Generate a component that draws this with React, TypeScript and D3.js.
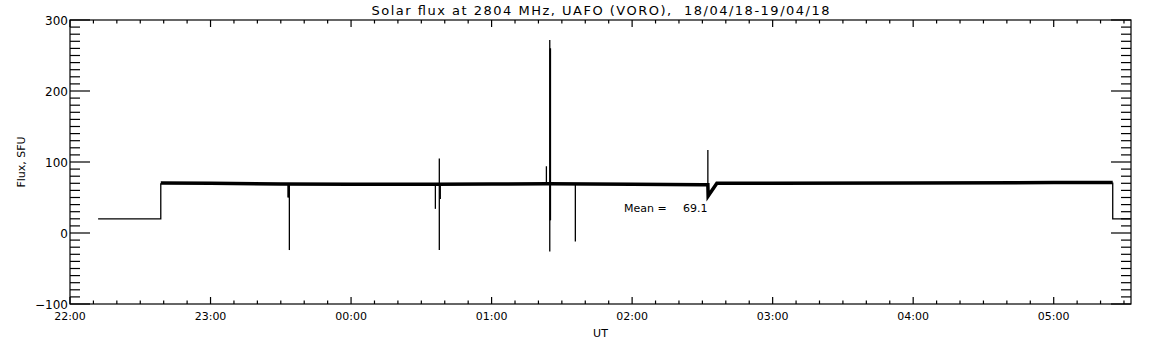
import React from "react";
import * as d3 from "d3";

// hours after 22:00 UT
const baseTimes = [0.646, 1.0, 1.5, 2.0, 2.6, 3.0, 3.4, 4.0, 4.5, 4.539, 4.541, 4.603, 5.0, 6.0, 7.0, 7.42];
const baseValues = [70.5, 70, 69, 68.5, 68.5, 69, 69.5, 68.5, 68, 68, 52, 70, 70, 70.5, 71, 71];

const lowStartTimes = [0.2, 0.646, 0.646];
const lowStartValues = [20, 20, 70];
const lowEndTimes = [7.42, 7.42, 7.55];
const lowEndValues = [71, 20, 20];

const spikeTimes = [1.551, 1.556, 1.561, 2.600, 2.628, 2.628, 2.635, 3.390, 3.414, 3.414, 3.417, 3.419, 3.596, 4.539];
const spikeBase = [68.5, 68.5, 68.5, 68.5, 68.5, 68.5, 68.5, 69.5, 69.5, 69.5, 18, 18, 69.5, 68];
const spikeValues = [50, 50, -24, 34, 105, -24, 48, 94, 272, -26, 260, 260, -12, 117];

const yTicks = [-100, 0, 100, 200, 300];
const xTickLabels = ["22:00", "23:00", "00:00", "01:00", "02:00", "03:00", "04:00", "05:00"];

const titleText = "Solar flux at 2804 MHz, UAFO (VORO),  18/04/18-19/04/18";
const meanLabel = "Mean =";
const meanValue = "69.1";

const W = 1152, H = 345;
const L = 70, R = 1131, T = 20, B = 304;

export default function App() {
  const x = d3.scaleLinear().domain([0, 7.55]).range([L, R]);
  const y = d3.scaleLinear().domain([-100, 300]).range([B, T]);
  const line = d3.line<[number, number]>().x(d => x(d[0])).y(d => y(d[1]));
  const base = line(baseTimes.map((t, i) => [t, baseValues[i]]) as [number, number][]) || "";
  const lowS = line(lowStartTimes.map((t, i) => [t, lowStartValues[i]]) as [number, number][]) || "";
  const lowE = line(lowEndTimes.map((t, i) => [t, lowEndValues[i]]) as [number, number][]) || "";
  const minorY = d3.range(-100, 301, 10).filter(v => v % 100 !== 0);
  const majorX = d3.range(0, 8, 1);
  const minorX = d3.range(0, 7.55, 1 / 6).filter(v => Math.abs(v - Math.round(v)) > 0.01);
  const font = "'DejaVu Sans', sans-serif";
  return (
    <svg width={W} height={H} style={{ position: "absolute", left: 0, top: 0, background: "#fff" }}>
      <rect x={0} y={0} width={W} height={H} fill="#fff" />
      <g stroke="#000" strokeWidth={1.2} fill="none">
        <rect x={L} y={T} width={R - L} height={B - T} />
        {yTicks.map(v => (
          <g key={"my" + v}>
            <line x1={L} x2={L + 20} y1={y(v)} y2={y(v)} />
            <line x1={R} x2={R - 20} y1={y(v)} y2={y(v)} />
          </g>
        ))}
        {minorY.map(v => (
          <g key={"ny" + v}>
            <line x1={L} x2={L + 10} y1={y(v)} y2={y(v)} />
            <line x1={R} x2={R - 10} y1={y(v)} y2={y(v)} />
          </g>
        ))}
        {majorX.map(v => (
          <g key={"mx" + v}>
            <line x1={x(v)} x2={x(v)} y1={B} y2={B - 7} />
            <line x1={x(v)} x2={x(v)} y1={T} y2={T + 7} />
          </g>
        ))}
        {minorX.map(v => (
          <g key={"nx" + v}>
            <line x1={x(v)} x2={x(v)} y1={B} y2={B - 3.5} />
            <line x1={x(v)} x2={x(v)} y1={T} y2={T + 3.5} />
          </g>
        ))}
      </g>
      <g fill="none" stroke="#000">
        <path d={lowS} strokeWidth={1.3} />
        <path d={lowE} strokeWidth={1.3} />
        <path d={base} strokeWidth={3.5} />
        {spikeTimes.map((t, i) => (
          <line key={"s" + i} x1={x(t)} x2={x(t)} y1={y(spikeBase[i])} y2={y(spikeValues[i])} strokeWidth={1.3} />
        ))}
      </g>
      <g fontFamily={font} fill="#000">
        <text x={(L + R) / 2} y={15} fontSize={13} textAnchor="middle" textLength={458} lengthAdjust="spacing" style={{ whiteSpace: "pre" }}>{titleText}</text>
        {yTicks.map(v => (
          <text key={"yl" + v} x={L - 2} y={y(v) + 4.5} fontSize={12} textAnchor="end">{v < 0 ? "\u2212" + Math.abs(v) : String(v)}</text>
        ))}
        {majorX.map((v, i) => (
          <text key={"xl" + v} x={x(v)} y={320} fontSize={11} textAnchor="middle">{xTickLabels[i]}</text>
        ))}
        <text x={(L + R) / 2} y={337} fontSize={11} textAnchor="middle">UT</text>
        <text transform={`translate(25,${(T + B) / 2}) rotate(-90)`} fontSize={11} textAnchor="middle">Flux, SFU</text>
        <text x={624} y={212} fontSize={11}>{meanLabel}</text>
        <text x={683} y={212} fontSize={11}>{meanValue}</text>
      </g>
    </svg>
  );
}
